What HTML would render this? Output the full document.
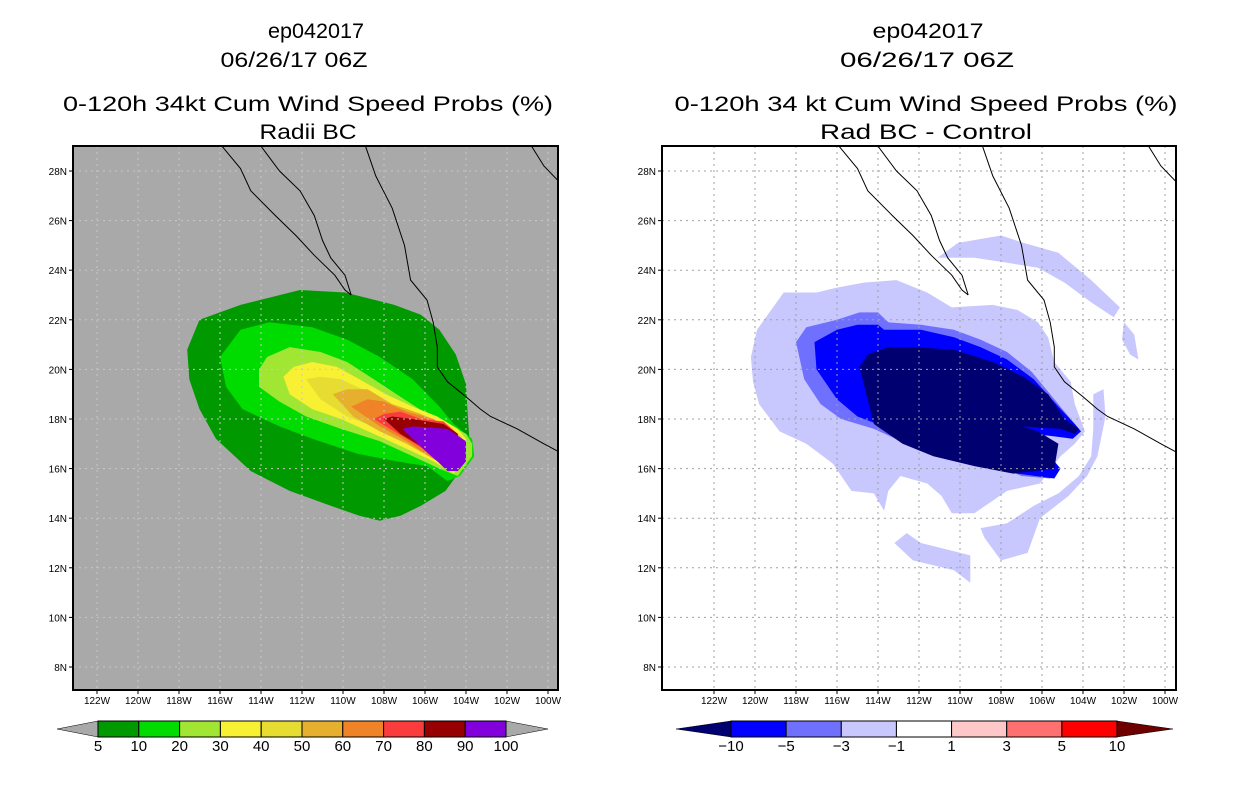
<!DOCTYPE html>
<html><head><meta charset="utf-8"><style>
html,body{margin:0;padding:0;background:#fff;width:1236px;height:800px;overflow:hidden}
svg{display:block}
text{font-family:"Liberation Sans",sans-serif;fill:#000}
</style></head><body>
<svg id="svg" width="1236" height="800" viewBox="0 0 1236 800" xmlns="http://www.w3.org/2000/svg">
<defs>
<clipPath id="clipL"><rect x="73" y="146" width="485" height="544"/></clipPath>
<clipPath id="clipR"><rect x="662" y="146" width="514" height="544"/></clipPath>
</defs>
<g font-size="21">
<text x="316" y="38" text-anchor="middle" textLength="96" lengthAdjust="spacingAndGlyphs">ep042017</text>
<text x="294" y="67" text-anchor="middle" textLength="147" lengthAdjust="spacingAndGlyphs">06/26/17 06Z</text>
<text x="308" y="111" text-anchor="middle" textLength="490" lengthAdjust="spacingAndGlyphs">0-120h 34kt Cum Wind Speed Probs (%)</text>
<text x="308" y="139" text-anchor="middle" textLength="97" lengthAdjust="spacingAndGlyphs">Radii BC</text>
</g>
<g font-size="21">
<text x="928" y="38" text-anchor="middle" textLength="111" lengthAdjust="spacingAndGlyphs">ep042017</text>
<text x="927" y="67" text-anchor="middle" textLength="174" lengthAdjust="spacingAndGlyphs">06/26/17 06Z</text>
<text x="926" y="111" text-anchor="middle" textLength="503" lengthAdjust="spacingAndGlyphs">0-120h 34 kt Cum Wind Speed Probs (%)</text>
<text x="926" y="139" text-anchor="middle" textLength="212" lengthAdjust="spacingAndGlyphs">Rad BC - Control</text>
</g>
<g id="left"></g>
<g id="right"></g>
<g id="cbars"></g>
</svg>
<script>
// ---- data ----
const lonTicks=[122,120,118,116,114,112,110,108,106,104,102,100];
const latTicks=[28,26,24,22,20,18,16,14,12,10,8];
const leftLevels=[5,10,20,30,40,50,60,70,80,90,100];
const leftColors=["#009900","#00DC00","#A0E632","#F8F032","#E6DC32","#E6AF2D","#F08228","#FA3C3C","#960000","#8200DC"];
const rightLevels=[-10,-5,-3,-1,1,3,5,10];
const rightColors=["#000070","#0000FF","#7070FF","#C8C8FF","#FFFFFF","#FFC8C8","#FF7070","#FF0000","#6E0000"];
// contour polygons (lonW, latN)
const p5=[[117.0,22.0],[115.0,22.6],[112.1,23.2],[109.9,23.1],[107.5,22.6],[106.2,22.2],[105.3,21.6],[104.5,20.6],[104.0,19.4],[103.9,18.0],[103.8,16.8],[104.3,15.9],[105.0,15.1],[106.2,14.5],[107.2,14.1],[108.2,13.9],[109.2,14.1],[110.6,14.5],[112.6,15.1],[114.5,15.9],[116.2,17.2],[117.0,18.4],[117.5,19.6],[117.6,20.8]];
const p10=[[116.0,20.5],[115.0,21.6],[113.6,21.9],[111.5,21.7],[109.8,21.2],[108.2,20.5],[106.6,19.6],[105.3,18.5],[104.6,17.8],[104.0,17.4],[103.7,17.2],[103.6,16.5],[104.3,15.7],[104.9,15.5],[105.9,16.1],[107.4,16.3],[109.3,16.6],[111.5,17.2],[113.1,17.7],[114.9,18.4],[115.7,19.3]];
const p20=[[114.1,20.0],[113.7,20.5],[112.6,20.9],[111.1,20.7],[109.8,20.3],[108.5,19.6],[107.2,18.9],[105.9,18.2],[104.9,17.8],[104.0,17.4],[103.7,17.0],[103.7,16.5],[104.4,15.7],[105.3,16.0],[106.6,16.5],[108.2,17.1],[110.1,17.6],[111.8,18.1],[113.1,18.7],[114.1,19.3]];
const p30=[[112.9,19.7],[112.4,20.1],[111.5,20.3],[110.3,20.1],[109.2,19.6],[107.9,19.0],[106.6,18.5],[105.4,18.1],[104.4,17.6],[104.0,17.2],[104.0,16.5],[104.6,15.8],[105.6,16.3],[106.9,16.8],[108.5,17.4],[110.1,18.0],[111.5,18.4],[112.6,19.0]];
const p40=[[111.8,19.6],[111.1,19.7],[110.1,19.6],[108.8,19.1],[107.6,18.6],[106.2,18.2],[105.1,17.8],[104.2,17.3],[104.1,16.5],[104.6,16.0],[105.4,16.4],[106.7,17.0],[108.2,17.6],[109.8,18.1],[111.1,18.8]];
const p50=[[110.5,19.0],[109.8,19.2],[108.8,19.2],[107.6,18.6],[106.2,18.2],[105.1,17.8],[104.3,17.3],[104.2,16.5],[104.7,16.0],[105.6,16.4],[106.9,17.0],[108.2,17.5],[109.5,18.1]];
const p60=[[109.6,18.5],[108.8,18.8],[108.0,18.7],[106.9,18.3],[105.6,18.0],[104.4,17.4],[104.3,16.6],[104.7,16.0],[105.6,16.4],[106.9,17.1],[108.2,17.7]];
const p70=[[108.5,18.0],[108.0,18.2],[107.2,18.3],[106.2,18.0],[105.1,17.9],[104.4,17.4],[104.4,16.5],[104.8,16.0],[105.4,16.3],[106.1,16.8],[107.1,17.3]];
const p80=[[108.0,18.0],[107.6,18.1],[106.6,18.0],[105.1,17.8],[104.4,17.4],[104.4,16.6],[104.9,16.1],[105.4,16.3],[106.2,16.9],[107.2,17.4]];
const p90=[[107.1,17.6],[106.6,17.7],[104.9,17.6],[104.0,17.1],[104.0,16.3],[104.4,15.9],[104.9,15.9],[105.4,16.3],[106.1,16.8]];
const n1main=[[120.2,20.5],[119.9,21.6],[118.6,23.1],[117.0,23.1],[116.0,23.3],[114.7,23.5],[113.1,23.6],[111.6,23.1],[110.4,22.5],[108.4,22.6],[107.2,22.4],[106.2,21.9],[105.7,21.3],[105.4,20.3],[104.6,19.5],[104.4,18.6],[103.9,17.5],[104.4,17.0],[105.1,16.5],[106.1,15.4],[107.7,15.1],[109.3,14.2],[110.4,14.2],[110.9,14.9],[111.6,15.4],[112.9,15.7],[113.5,15.1],[113.7,14.3],[114.2,15.0],[115.3,15.1],[116.2,16.2],[117.5,17.0],[118.8,17.5],[119.8,18.6],[120.1,19.5]];
const n1ring=[[103.5,19.0],[103.0,19.2],[102.9,18.1],[103.3,16.5],[103.8,15.7],[104.7,14.9],[106.1,14.0],[106.7,12.6],[108.0,12.3],[108.8,13.2],[109.0,13.6],[107.7,13.8],[106.4,14.5],[105.2,15.0],[104.2,15.7],[103.6,16.5],[103.5,17.6]];
const n1north=[[111.1,24.5],[110.1,25.1],[108.0,25.4],[106.9,25.1],[105.2,24.7],[103.6,23.6],[102.2,22.5],[102.5,22.1],[103.6,22.7],[104.9,23.5],[106.2,24.1],[107.7,24.3],[109.3,24.5],[110.6,24.5]];
const n1south=[[113.2,13.0],[112.6,13.4],[111.9,13.0],[109.5,12.5],[109.5,11.4],[110.3,11.9],[112.3,12.3]];
const n1east=[[102.0,21.9],[101.5,21.4],[101.3,20.4],[101.7,20.6],[102.1,21.2]];
const n3=[[118.0,21.1],[117.5,21.7],[116.0,22.0],[114.9,22.3],[114.0,22.3],[113.5,21.9],[111.9,21.8],[110.3,21.6],[109.0,21.2],[107.7,20.7],[106.5,19.9],[105.4,18.8],[104.4,17.8],[104.1,17.5],[104.6,17.2],[105.6,17.4],[106.2,17.2],[105.2,15.9],[105.6,15.6],[107.0,15.7],[108.5,16.2],[111.0,16.5],[112.6,17.0],[114.2,17.6],[115.8,18.0],[116.8,18.6],[117.6,19.6]];
const n5=[[117.1,21.1],[116.0,21.6],[115.0,21.8],[114.0,21.8],[113.7,21.6],[111.9,21.6],[110.3,21.3],[109.0,20.9],[107.7,20.4],[106.4,19.6],[105.2,18.5],[104.4,17.8],[104.1,17.5],[104.5,17.2],[105.4,17.3],[106.4,17.4],[105.6,16.5],[105.1,16.0],[105.4,15.6],[107.2,15.8],[109.3,16.3],[111.6,16.8],[113.4,17.6],[115.0,18.1],[116.0,18.8],[117.0,20.0]];
const n10=[[114.9,20.1],[114.5,20.6],[113.5,20.9],[112.3,20.9],[110.3,20.8],[108.4,20.3],[106.9,19.7],[105.7,19.0],[104.9,18.0],[104.2,17.6],[104.4,17.4],[105.1,17.6],[107.0,17.7],[106.2,17.5],[105.2,17.0],[105.4,16.0],[107.4,15.8],[109.3,16.1],[111.3,16.5],[112.8,17.0],[114.2,17.8]];
// coastlines
const coastBajaW=[[115.9,29.0],[115.0,28.1],[114.5,27.2],[113.3,26.2],[112.3,25.4],[111.4,24.6],[110.4,23.8],[109.9,23.2],[109.6,23.0]];
const coastBajaE=[[114.0,29.0],[113.1,28.0],[112.1,27.2],[111.4,26.2],[111.0,25.2],[110.6,24.5],[109.9,23.8],[109.6,23.0]];
const coastMain=[[108.9,29.0],[108.4,27.8],[107.6,26.5],[107.0,25.0],[106.7,23.6],[105.9,22.8],[105.6,21.9],[105.4,20.9],[105.4,20.1],[104.9,19.5],[104.0,18.9],[103.3,18.4],[102.8,18.1],[101.5,17.6],[100.2,17.0],[99.3,16.6]];
const coastNE=[[100.8,29.0],[100.2,28.2],[99.5,27.6]];

const NS="http://www.w3.org/2000/svg";
function mk(tag,attrs,parent){const e=document.createElementNS(NS,tag);for(const k in attrs)e.setAttribute(k,attrs[k]);parent.appendChild(e);return e;}
function makeProj(x122,y28){return {x:lon=>x122+(122-lon)*20.5,y:lat=>y28+(28-lat)*24.8};}
const PL=makeProj(97,171), PR=makeProj(714,171);
function poly(P,pts,fill,g,name){
  const e=mk('polygon',{points:pts.map(p=>P.x(p[0]).toFixed(1)+','+P.y(p[1]).toFixed(1)).join(' '),fill:fill},g);
  
  
}
function line(P,pts,g,name){
  const e=mk('polyline',{points:pts.map(p=>P.x(p[0]).toFixed(1)+','+P.y(p[1]).toFixed(1)).join(' '),fill:'none',stroke:'#000','stroke-width':1},g);
  
  
}
function panel(g,P,bx,bw,bg,gridc,clip,fills){
  mk('rect',{x:bx,y:146,width:bw,height:544,fill:bg},g);
  const c=mk('g',{'clip-path':'url(#'+clip+')'},g);
  fills(c);
  for(const lon of lonTicks){const x=P.x(lon);const e=mk('line',{x1:x,y1:146,x2:x,y2:690,stroke:gridc,'stroke-dasharray':'2,4'},c);
    }
  for(const lat of latTicks){const y=P.y(lat);const e=mk('line',{x1:bx,y1:y,x2:bx+bw,y2:y,stroke:gridc,'stroke-dasharray':'2,4'},c);
    }
  line(P,coastBajaW,c,'coastline');line(P,coastBajaE,c,'coastline');line(P,coastMain,c,'coastline');line(P,coastNE,c,'coastline');
  mk('rect',{x:bx,y:146,width:bw,height:544,fill:'none',stroke:'#000','stroke-width':2},g);
  for(const lon of lonTicks){const x=P.x(lon);
    mk('line',{x1:x,y1:690,x2:x,y2:694,stroke:'#000'},g);
    const t=mk('text',{x:x,y:704,'font-size':10,'text-anchor':'middle'},g);t.textContent=lon+'W';
    }
  for(const lat of latTicks){const y=P.y(lat);
    mk('line',{x1:bx-4,y1:y,x2:bx,y2:y,stroke:'#000'},g);
    const t=mk('text',{x:bx-6,y:y+4,'font-size':10,'text-anchor':'end'},g);t.textContent=lat+'N';
    }
}
panel(document.getElementById('left'),PL,73,485,'#A9A9A9','#C8C8C8','clipL',c=>{
  const ps=[p5,p10,p20,p30,p40,p50,p60,p70,p80,p90];
  ps.forEach((p,i)=>poly(PL,p,leftColors[i],c,'contour-'+leftLevels[i]+'pct'));
});
panel(document.getElementById('right'),PR,662,514,'#FFFFFF','#A0A0A0','clipR',c=>{
  [n1main,n1ring,n1north,n1south,n1east].forEach(p=>poly(PR,p,rightColors[3],c,'contour-minus1'));
  poly(PR,n3,rightColors[2],c,'contour-minus3');
  poly(PR,n5,rightColors[1],c,'contour-minus5');
  poly(PR,n10,rightColors[0],c,'contour-minus10');
});
// colorbars
function cbar(g,x0,x1,triL,triR,levels,colors,lc,rc,y0,h){
  const n=levels.length-1,w=(x1-x0)/n,ym=y0+h/2;
  const a=mk('polygon',{points:`${triL},${ym} ${x0},${y0} ${x0},${y0+h}`,fill:lc,stroke:'#000','stroke-width':0.5},g);
  
  const b=mk('polygon',{points:`${triR},${ym} ${x1},${y0} ${x1},${y0+h}`,fill:rc,stroke:'#000','stroke-width':0.5},g);
  
  for(let i=0;i<n;i++){const r=mk('rect',{x:x0+i*w,y:y0,width:w,height:h,fill:colors[i],stroke:'#000','stroke-width':1},g);
    }
  levels.forEach((v,i)=>{const t=mk('text',{x:x0+i*w,y:y0+h+14,'font-size':15,'text-anchor':'middle'},g);
    t.textContent=String(v).replace('-','\u2212');});
}
const cg=document.getElementById('cbars');
cbar(cg,98,506,57,548,leftLevels,leftColors,'#A9A9A9','#A9A9A9',721,16);
cbar(cg,731,1117,676,1173,rightLevels,rightColors.slice(1,8),rightColors[0],rightColors[8],721,16);
</script>
</body></html>
